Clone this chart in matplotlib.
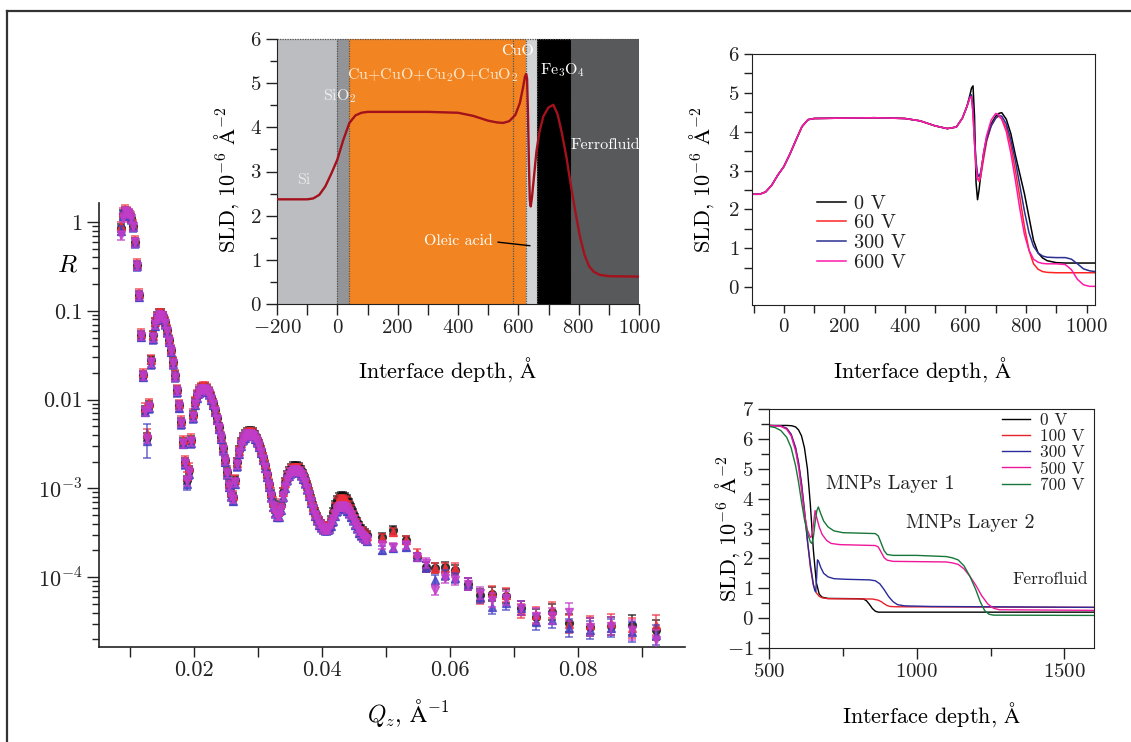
import numpy as np
import matplotlib
matplotlib.use("Agg")
import matplotlib.pyplot as plt
from matplotlib.patches import Rectangle
from matplotlib.lines import Line2D
from matplotlib.ticker import FixedLocator, FixedFormatter, MultipleLocator, NullFormatter, LogLocator

plt.rcParams.update({
    "font.family": ["cmr10", "DejaVu Serif"],
    "mathtext.fontset": "cm",
    "axes.formatter.use_mathtext": True,
    "axes.unicode_minus": True,
    "text.color": "#222222",
    "axes.edgecolor": "#222222",
    "xtick.color": "#222222",
    "ytick.color": "#222222",
})

# ---------------- reflectivity data (log10 R) ----------------
q_dense = [0.00859, 0.00891, 0.00922, 0.00953, 0.00984, 0.01016, 0.01047, 0.01078, 0.01109, 0.01141,
           0.01172, 0.01203, 0.01234, 0.01266, 0.01297, 0.01328, 0.01359, 0.01391, 0.01422, 0.01453,
           0.01484, 0.01516, 0.01547, 0.01578, 0.01609, 0.01641, 0.01672, 0.01703, 0.01734, 0.01766,
           0.01797, 0.01828, 0.01859, 0.01891, 0.01922, 0.01953, 0.01984, 0.02016, 0.02047, 0.02078,
           0.02109, 0.02141, 0.02172, 0.02203, 0.02234, 0.02266, 0.02297, 0.02328, 0.02359, 0.02391,
           0.02422, 0.02453, 0.02484, 0.02516, 0.02547, 0.02578, 0.02609, 0.02641, 0.02672, 0.02703,
           0.02734, 0.02766, 0.02797, 0.02828, 0.02859, 0.02891, 0.02922, 0.02953, 0.02984, 0.03016,
           0.03047, 0.03078, 0.03109, 0.03141, 0.03172, 0.03203, 0.03234, 0.03266, 0.03297, 0.03328,
           0.03359, 0.03391, 0.03422, 0.03453, 0.03484, 0.03516, 0.03547, 0.03578, 0.03609, 0.03641,
           0.03672, 0.03703, 0.03734, 0.03766, 0.03797, 0.03828, 0.03859, 0.03891, 0.03922, 0.03953,
           0.03984, 0.04016, 0.04047, 0.04078, 0.04109, 0.04141, 0.04172, 0.04203, 0.04234, 0.04266,
           0.04297, 0.04328, 0.04359, 0.04391, 0.04422, 0.04453, 0.04484, 0.04516, 0.04547, 0.04578,
           0.04609, 0.04641, 0.04672, 0.04703]

logr_0v = [-0.068, 0.090, 0.124, 0.113, 0.090, 0.045, -0.045, -0.225, -0.484, -0.822,
           -1.273, -1.723, -2.117, -2.421, -2.061, -1.554, -1.273, -1.126, -1.059, -1.025,
           -1.025, -1.059, -1.126, -1.216, -1.329, -1.441, -1.577, -1.723, -1.892, -2.061,
           -2.252, -2.477, -2.703, -2.905, -2.793, -2.455, -2.173, -2.027, -1.948, -1.903,
           -1.869, -1.858, -1.858, -1.881, -1.914, -1.971, -2.038, -2.117, -2.207, -2.309,
           -2.421, -2.545, -2.680, -2.815, -2.950, -3.052, -3.097, -2.905, -2.703, -2.568,
           -2.477, -2.421, -2.387, -2.365, -2.354, -2.354, -2.365, -2.399, -2.444, -2.500,
           -2.568, -2.646, -2.736, -2.838, -2.950, -3.063, -3.164, -3.232, -3.266, -3.266,
           -3.187, -3.041, -2.928, -2.849, -2.804, -2.770, -2.748, -2.748, -2.748, -2.759,
           -2.793, -2.838, -2.894, -2.962, -3.041, -3.119, -3.198, -3.266, -3.322, -3.367,
           -3.401, -3.423, -3.435, -3.435, -3.423, -3.356, -3.266, -3.187, -3.131, -3.097,
           -3.086, -3.086, -3.097, -3.119, -3.164, -3.221, -3.277, -3.333, -3.378, -3.423,
           -3.457, -3.480, -3.502, -3.525]

logr_60v = [-0.05, 0.11, 0.14, 0.12, 0.10, 0.06, -0.03, -0.21, -0.47, -0.81,
            -1.26, -1.70, -2.09, -2.38, -2.04, -1.55, -1.28, -1.13, -1.07, -1.03,
            -1.03, -1.06, -1.12, -1.21, -1.32, -1.43, -1.57, -1.72, -1.88, -2.05,
            -2.24, -2.46, -2.68, -2.86, -2.76, -2.44, -2.16, -2.02, -1.94, -1.89,
            -1.86, -1.85, -1.85, -1.87, -1.91, -1.97, -2.04, -2.12, -2.21, -2.31,
            -2.42, -2.54, -2.67, -2.80, -2.94, -3.04, -3.08, -2.90, -2.71, -2.58,
            -2.49, -2.44, -2.41, -2.38, -2.37, -2.37, -2.38, -2.41, -2.46, -2.51,
            -2.57, -2.65, -2.73, -2.83, -2.94, -3.05, -3.15, -3.22, -3.25, -3.25,
            -3.17, -3.04, -2.94, -2.87, -2.82, -2.79, -2.77, -2.77, -2.77, -2.78,
            -2.81, -2.85, -2.90, -2.97, -3.05, -3.13, -3.21, -3.27, -3.33, -3.37,
            -3.41, -3.43, -3.44, -3.44, -3.43, -3.38, -3.30, -3.22, -3.16, -3.13,
            -3.12, -3.12, -3.13, -3.15, -3.19, -3.24, -3.30, -3.35, -3.40, -3.44,
            -3.48, -3.50, -3.52, -3.54]

logr_300v = [-0.10, 0.07, 0.11, 0.10, 0.08, 0.03, -0.06, -0.24, -0.50, -0.84,
             -1.29, -1.74, -2.14, -2.47, -2.10, -1.60, -1.32, -1.17, -1.10, -1.07,
             -1.06, -1.09, -1.15, -1.24, -1.35, -1.46, -1.60, -1.75, -1.92, -2.09,
             -2.28, -2.50, -2.73, -2.95, -2.84, -2.49, -2.21, -2.06, -1.98, -1.93,
             -1.90, -1.89, -1.89, -1.91, -1.94, -2.00, -2.06, -2.14, -2.23, -2.33,
             -2.44, -2.57, -2.70, -2.84, -2.98, -3.09, -3.14, -2.95, -2.75, -2.61,
             -2.52, -2.46, -2.43, -2.41, -2.40, -2.40, -2.41, -2.44, -2.48, -2.53,
             -2.60, -2.68, -2.77, -2.87, -2.98, -3.10, -3.21, -3.28, -3.32, -3.32,
             -3.24, -3.10, -2.99, -2.91, -2.86, -2.83, -2.81, -2.81, -2.81, -2.82,
             -2.85, -2.89, -2.94, -3.01, -3.08, -3.16, -3.24, -3.31, -3.36, -3.41,
             -3.44, -3.46, -3.47, -3.47, -3.46, -3.42, -3.37, -3.31, -3.26, -3.23,
             -3.22, -3.22, -3.23, -3.25, -3.28, -3.32, -3.36, -3.41, -3.45, -3.50,
             -3.53, -3.55, -3.57, -3.59]

logr_600v = [-0.15, 0.05, 0.12, 0.11, 0.09, 0.04, -0.05, -0.23, -0.49, -0.83,
             -1.28, -1.73, -2.13, -2.44, -2.08, -1.58, -1.30, -1.15, -1.09, -1.05,
             -1.05, -1.08, -1.14, -1.23, -1.34, -1.45, -1.59, -1.74, -1.90, -2.07,
             -2.26, -2.49, -2.71, -2.92, -2.81, -2.47, -2.19, -2.05, -1.97, -1.92,
             -1.89, -1.88, -1.88, -1.90, -1.93, -1.99, -2.05, -2.13, -2.22, -2.32,
             -2.43, -2.56, -2.69, -2.83, -2.97, -3.08, -3.12, -2.93, -2.73, -2.60,
             -2.51, -2.45, -2.42, -2.39, -2.39, -2.39, -2.40, -2.43, -2.47, -2.52,
             -2.59, -2.67, -2.76, -2.86, -2.97, -3.09, -3.20, -3.27, -3.31, -3.31,
             -3.23, -3.09, -2.98, -2.90, -2.85, -2.82, -2.80, -2.80, -2.80, -2.81,
             -2.84, -2.88, -2.93, -3.00, -3.07, -3.15, -3.23, -3.30, -3.35, -3.40,
             -3.43, -3.45, -3.46, -3.46, -3.45, -3.40, -3.35, -3.29, -3.24, -3.21,
             -3.20, -3.20, -3.21, -3.23, -3.27, -3.30, -3.35, -3.40, -3.44, -3.48,
             -3.51, -3.54, -3.56, -3.58]

q_sparse = [0.0493, 0.0511, 0.0531, 0.0549, 0.0563, 0.0577, 0.0592, 0.0608, 0.0628, 0.0647,
            0.0666, 0.0687, 0.0711, 0.0734, 0.0760, 0.0786, 0.0818, 0.0852, 0.0884, 0.0922]
logr_sparse_0v = [-3.547, -3.468, -3.581, -3.773, -3.885, -3.896, -3.885, -3.919, -4.077, -4.200,
                  -4.189, -4.212, -4.347, -4.448, -4.392, -4.516, -4.561, -4.550, -4.538, -4.595]
logr_sparse_60v = [-3.559, -3.491, -3.581, -3.727, -3.885, -3.896, -3.896, -3.896, -4.077, -4.234,
                   -4.178, -4.200, -4.381, -4.426, -4.369, -4.527, -4.538, -4.516, -4.572, -4.538]
logr_sparse_300v = [-3.694, -3.671, -3.660, -3.773, -3.885, -4.032, -3.975, -4.009, -4.077, -4.223,
                    -4.336, -4.291, -4.347, -4.505, -4.482, -4.572, -4.595, -4.572, -4.617, -4.651]
logr_sparse_600v = [-3.637, -3.660, -3.637, -3.773, -3.840, -4.144, -4.009, -4.032, -4.077, -4.178,
                    -4.257, -4.234, -4.347, -4.437, -4.437, -4.392, -4.561, -4.550, -4.595, -4.707]
# half-width of the error bars in decades
err_sparse = [0.05, 0.05, 0.05, 0.05, 0.06, 0.06, 0.06, 0.06, 0.07, 0.07,
              0.08, 0.08, 0.08, 0.09, 0.09, 0.10, 0.10, 0.10, 0.11, 0.11]
err_dense = 0.05
# wider bars in the two deepest fringe minima of the 300 V run
wide_err_index = [13, 33]
wide_err = [0.19, 0.07]

# ---------------- layer model SLD profile ----------------
model_depth = [-200, -150, -100, -80, -60, -40, -20, 0, 20, 40,
               60, 80, 100, 200, 300, 400, 450, 500, 530, 550,
               570, 590, 605, 615, 622, 626, 629, 632, 635, 638,
               641, 645, 650, 660, 670, 683, 700, 716, 730, 745,
               760, 775, 790, 805, 820, 835, 850, 870, 900, 1000]
model_sld = [2.37, 2.37, 2.37, 2.39, 2.47, 2.66, 2.95, 3.27, 3.72, 4.10,
             4.27, 4.33, 4.35, 4.35, 4.35, 4.33, 4.26, 4.15, 4.11, 4.10,
             4.14, 4.28, 4.55, 4.88, 5.15, 5.21, 5.10, 4.30, 3.20, 2.35,
             2.21, 2.40, 2.75, 3.45, 3.90, 4.25, 4.45, 4.51, 4.30, 3.85,
             3.30, 2.65, 2.05, 1.50, 1.10, 0.85, 0.73, 0.66, 0.63, 0.62]
layer_names = ["Si", "SiO$_2$", "Cu+CuO+Cu$_2$O+CuO$_2$", "CuO", "Fe$_3$O$_4$", "Ferrofluid"]
layer_edges = [-200, 0, 40, 625, 661, 773, 1000]
layer_colors = ["#bcbdc1", "#939498", "#f28522", "#d2d3d5", "#000000", "#58595b"]

# ---------------- SLD profiles, 0-600 V ----------------
volt_labels_a = ["0 V", "60 V", "300 V", "600 V"]
volt_colors_a = ["#000000", "#ff2424", "#2b2f90", "#ff1aa8"]
depth_a = [-105, -80, -60, -40, -20, 0, 20, 40, 60, 80,
           100, 200, 300, 400, 450, 500, 540, 570, 590, 605,
           615, 620, 625, 630, 635, 640, 645, 650, 660, 670,
           685, 700, 710, 720, 735, 750, 765, 780, 795, 810,
           825, 840, 855, 870, 900, 930, 950, 970, 990, 1010, 1028]
sld_a_common = [2.39, 2.39, 2.45, 2.62, 2.88, 3.10, 3.42, 3.78, 4.13, 4.31,
                4.34, 4.35, 4.36, 4.34, 4.28, 4.15, 4.08, 4.12, 4.35, 4.65]
sld_a_0v = sld_a_common + [4.95, 5.12, 5.18, 4.40, 2.70, 2.25, 2.50, 2.85, 3.45, 3.85,
                           4.20, 4.40, 4.47, 4.49, 4.32, 3.95, 3.40, 2.90, 2.40, 1.80,
                           1.20, 0.88, 0.75, 0.68, 0.63, 0.62, 0.62, 0.62, 0.62, 0.62, 0.62]
sld_a_60v = sld_a_common + [4.88, 4.92, 4.50, 3.70, 3.15, 2.82, 2.72, 2.82, 3.30, 3.75,
                            4.15, 4.35, 4.40, 4.33, 4.10, 3.65, 3.00, 2.30, 1.55, 0.95,
                            0.60, 0.46, 0.40, 0.38, 0.37, 0.37, 0.37, 0.37, 0.37, 0.37, 0.37]
sld_a_300v = sld_a_common + [4.90, 4.95, 4.65, 3.85, 3.25, 2.92, 2.84, 2.95, 3.40, 3.80,
                             4.15, 4.35, 4.42, 4.40, 4.20, 3.80, 3.25, 2.60, 1.95, 1.40,
                             1.05, 0.88, 0.80, 0.77, 0.76, 0.76, 0.72, 0.60, 0.47, 0.42, 0.40]
sld_a_600v = sld_a_common + [4.88, 4.90, 4.45, 3.70, 3.10, 2.78, 2.74, 2.88, 3.45, 3.90,
                             4.30, 4.47, 4.44, 4.32, 4.00, 3.45, 2.75, 2.00, 1.35, 0.95,
                             0.72, 0.64, 0.61, 0.60, 0.60, 0.58, 0.45, 0.20, 0.06, 0.02, 0.02]

# ---------------- SLD profiles, 0-700 V ----------------
volt_labels_b = ["0 V", "100 V", "300 V", "500 V", "700 V"]
volt_colors_b = ["#000000", "#e8202a", "#2a2a9a", "#f0169a", "#17773a"]
depth_b_0v = [500, 560, 577, 590, 600, 610, 620, 630, 640, 650, 660, 670, 680, 700,
              800, 820, 830, 840, 850, 860, 870, 1600]
sld_b_0v = [6.45, 6.45, 6.44, 6.40, 6.30, 6.10, 5.70, 5.00, 3.80, 2.30, 1.20, 0.80, 0.70, 0.66,
            0.65, 0.64, 0.58, 0.46, 0.32, 0.23, 0.20, 0.20]
depth_b_100v = [500, 540, 560, 575, 590, 600, 610, 620, 630, 640, 650, 660, 670, 680, 700,
                850, 870, 880, 890, 900, 910, 930, 1600]
sld_b_100v = [6.45, 6.43, 6.35, 6.15, 5.70, 5.20, 4.50, 3.60, 2.60, 1.70, 1.10, 0.85, 0.73, 0.68, 0.65,
              0.64, 0.60, 0.55, 0.48, 0.42, 0.39, 0.38, 0.36]
depth_b_300v = [500, 540, 560, 575, 590, 600, 610, 620, 630, 640, 650, 655, 658, 661, 664, 668,
                675, 685, 700, 720, 760, 840, 860, 875, 890, 905, 920, 935, 960, 1050, 1600]
sld_b_300v = [6.45, 6.43, 6.35, 6.15, 5.70, 5.20, 4.50, 3.60, 2.60, 1.80, 1.15, 0.92, 0.88, 1.30, 1.95, 1.90,
              1.70, 1.50, 1.38, 1.32, 1.30, 1.28, 1.25, 1.15, 0.95, 0.72, 0.55, 0.45, 0.41, 0.39, 0.36]
depth_b_500v = [500, 540, 560, 575, 590, 600, 610, 620, 630, 640, 645, 650, 656, 662, 670, 680,
                695, 710, 740, 860, 870, 880, 890, 900, 920, 1100, 1120, 1140, 1160, 1180,
                1200, 1220, 1240, 1260, 1280, 1600]
sld_b_500v = [6.45, 6.42, 6.32, 6.10, 5.60, 5.05, 4.30, 3.50, 2.95, 2.70, 2.75, 3.10, 3.60, 3.35, 3.05, 2.80,
              2.60, 2.50, 2.46, 2.43, 2.38, 2.20, 2.02, 1.94, 1.90, 1.88, 1.85, 1.80, 1.65, 1.40,
              1.10, 0.75, 0.48, 0.33, 0.28, 0.26]
depth_b_700v = [500, 520, 540, 560, 575, 590, 600, 610, 620, 630, 640, 645, 650, 656, 662, 667,
                675, 685, 700, 720, 750, 860, 870, 880, 890, 900, 920, 1000, 1100, 1120,
                1140, 1160, 1180, 1200, 1215, 1230, 1245, 1260, 1600]
sld_b_700v = [6.42, 6.38, 6.28, 6.05, 5.70, 5.10, 4.55, 3.90, 3.30, 2.85, 2.55, 2.50, 2.70, 3.20, 3.60, 3.72,
              3.50, 3.25, 3.05, 2.92, 2.86, 2.83, 2.75, 2.50, 2.25, 2.13, 2.10, 2.10, 2.06, 2.02,
              1.95, 1.75, 1.40, 0.95, 0.55, 0.25, 0.13, 0.10, 0.09]

W, H = 1131, 742
fig = plt.figure(figsize=(W / 100, H / 100), dpi=100)


def frac(left, top, right, bottom):
    return [left / W, 1 - bottom / H, (right - left) / W, (bottom - top) / H]


def style_ticks(ax, size, major_len=7, minor_len=4):
    ax.tick_params(which="both", direction="out", top=False, right=False, labelsize=size, width=1.0)
    ax.tick_params(which="major", length=major_len, pad=3)
    ax.tick_params(which="minor", length=minor_len)


# ---------------- reflectivity panel ----------------
axm = fig.add_axes(frac(99, 203, 685, 647))
axm.set_yscale("log")
series = [
    (logr_0v, logr_sparse_0v, "#111111", "o", 5.6),
    (logr_60v, logr_sparse_60v, "#f2303a", "^", 6.3),
    (logr_300v, logr_sparse_300v, "#4640c4", "^", 6.3),
    (logr_600v, logr_sparse_600v, "#c23cc8", "v", 6.3),
]
for k, (ld, ls, col, mk, ms) in enumerate(series):
    q = np.array(q_dense + q_sparse)
    lr = np.array(ld + ls)
    e = np.array([err_dense] * len(ld) + err_sparse)
    if k == 2:
        for i, w in zip(wide_err_index, wide_err):
            e[i] = w
    r = 10 ** lr
    lo = r - 10 ** (lr - e)
    hi = 10 ** (lr + e) - r
    axm.errorbar(q, r, yerr=[lo, hi], fmt=mk, ms=ms, color=col, mec=col, mfc=col,
                 ecolor=col, elinewidth=1.1, capsize=3, capthick=1.1, alpha=0.8, zorder=2 + k)
axm.set_xlim(0.00516, 0.0967)
axm.set_ylim(10 ** -4.786, 10 ** 0.214)
axm.spines["top"].set_visible(False)
axm.spines["right"].set_visible(False)
axm.spines["left"].set_linewidth(1.2)
axm.spines["bottom"].set_linewidth(1.2)
axm.yaxis.set_major_locator(FixedLocator([1, 0.1, 0.01, 1e-3, 1e-4]))
axm.yaxis.set_major_formatter(FixedFormatter(["1", "0.1", "0.01", r"$10^{-3}$", r"$10^{-4}$"]))
axm.yaxis.set_minor_locator(LogLocator(base=10, subs=np.arange(2, 10)))
axm.yaxis.set_minor_formatter(NullFormatter())
axm.xaxis.set_major_locator(FixedLocator([0.02, 0.04, 0.06, 0.08]))
axm.xaxis.set_major_formatter(FixedFormatter(["0.02", "0.04", "0.06", "0.08"]))
axm.xaxis.set_minor_locator(FixedLocator([0.01, 0.03, 0.05, 0.07, 0.09]))
style_ticks(axm, 16, major_len=9, minor_len=5)
axm.tick_params(axis="x", which="minor", length=7)
axm.tick_params(axis="x", which="major", length=7)
axm.set_xlabel(r"$Q_z$, $\mathrm{\AA}^{-1}$", fontsize=17)
axm.xaxis.set_label_coords(0.527, -0.149)
axm.xaxis.label.set_va("center")
axm.set_ylabel(r"$R$", fontsize=18, rotation=0)
axm.yaxis.set_label_coords(-0.053, 0.86)
axm.yaxis.label.set_va("center")

# ---------------- layer model panel ----------------
axl = fig.add_axes(frac(277, 39, 639, 304))
for x0, x1, c in zip(layer_edges[:-1], layer_edges[1:], layer_colors):
    axl.add_patch(Rectangle((x0, 0), x1 - x0, 6, facecolor=c, edgecolor="none", zorder=0))
for xb in [0, 40, 581, 625, 661, 773, 1000]:
    axl.plot([xb, xb], [0, 6], ls=(0, (1, 1)), color="#555555", lw=0.9, zorder=1)
axl.plot([-200, 1000], [6, 6], ls=(0, (1, 1)), color="#555555", lw=0.9, zorder=1, clip_on=False)
axl.plot(model_depth, model_sld, color="#a3111c", lw=1.7, zorder=3)
axl.set_xlim(-200, 1000)
axl.set_ylim(0, 6)
axl.spines["top"].set_visible(False)
axl.spines["right"].set_visible(False)
axl.xaxis.set_major_locator(MultipleLocator(200))
axl.xaxis.set_minor_locator(MultipleLocator(100))
axl.yaxis.set_major_locator(MultipleLocator(1))
axl.yaxis.set_minor_locator(MultipleLocator(0.5))
style_ticks(axl, 15, major_len=8, minor_len=5)
axl.tick_params(axis="x", which="minor", length=8)
axl.set_xlabel(r"Interface depth, $\mathrm{\AA}$", fontsize=16)
axl.xaxis.set_label_coords(0.472, -0.249)
axl.xaxis.label.set_va("center")
axl.set_ylabel(r"SLD, $10^{-6}$ $\mathrm{\AA}^{-2}$", fontsize=16)
axl.yaxis.set_label_coords(-0.138, 0.47)
axl.yaxis.label.set_va("center")
layer_text_pos = [(-110, 2.8), (9, 4.7), (316, 5.19), (596, 5.72), (747, 5.3), (889, 3.6)]
layer_text_col = ["#e8e8e8", "#eeeeee", "#fde7cc", "#ffffff", "#ffffff", "#ffffff"]
for name, (tx, ty), tc in zip(layer_names, layer_text_pos, layer_text_col):
    axl.text(tx, ty, name, color=tc, fontsize=11.5, ha="center", va="center", zorder=4)
axl.text(400, 1.42, "Oleic acid", color="#ffffff", fontsize=11.5, ha="center", va="center", zorder=4)
axl.plot([533, 638], [1.40, 1.32], color="#000000", lw=1.0, zorder=4)

# ---------------- SLD profiles 0-600 V ----------------
axa = fig.add_axes(frac(752, 54, 1095, 305))
for sld, lab, col in zip([sld_a_0v, sld_a_60v, sld_a_300v, sld_a_600v], volt_labels_a, volt_colors_a):
    axa.plot(depth_a, sld, color=col, lw=1.1, label=lab)
axa.set_xlim(-105, 1028)
axa.set_ylim(-0.46, 6)
axa.xaxis.set_major_locator(MultipleLocator(200))
axa.xaxis.set_minor_locator(MultipleLocator(100))
axa.yaxis.set_major_locator(MultipleLocator(1))
axa.yaxis.set_minor_locator(MultipleLocator(0.5))
style_ticks(axa, 15, major_len=6, minor_len=6)
axa.set_xlabel(r"Interface depth, $\mathrm{\AA}$", fontsize=16)
axa.xaxis.set_label_coords(0.499, -0.259)
axa.xaxis.label.set_va("center")
axa.set_ylabel(r"SLD, $10^{-6}$ $\mathrm{\AA}^{-2}$", fontsize=16)
axa.yaxis.set_label_coords(-0.146, 0.5)
axa.yaxis.label.set_va("center")
axa.legend(loc="upper left", bbox_to_anchor=(0.19, 0.44), frameon=False, fontsize=14.5,
           handlelength=1.45, handletextpad=0.4, labelspacing=0.08, borderpad=0, borderaxespad=0)

# ---------------- SLD profiles 0-700 V ----------------
axb = fig.add_axes(frac(769, 409, 1094, 648))
b_sets = [(depth_b_0v, sld_b_0v), (depth_b_100v, sld_b_100v), (depth_b_300v, sld_b_300v),
          (depth_b_500v, sld_b_500v), (depth_b_700v, sld_b_700v)]
for (dd, ss), lab, col in zip(b_sets, volt_labels_b, volt_colors_b):
    axb.plot(dd, ss, color=col, lw=1.0, label=lab)
axb.set_xlim(500, 1600)
axb.set_ylim(-1, 7)
axb.xaxis.set_major_locator(MultipleLocator(500))
axb.xaxis.set_minor_locator(MultipleLocator(250))
axb.yaxis.set_major_locator(MultipleLocator(1))
axb.yaxis.set_minor_locator(MultipleLocator(0.5))
style_ticks(axb, 15, major_len=8, minor_len=6)
axb.set_xlabel(r"Interface depth, $\mathrm{\AA}$", fontsize=16)
axb.xaxis.set_label_coords(0.50, -0.28)
axb.xaxis.label.set_va("center")
axb.set_ylabel(r"SLD, $10^{-6}$ $\mathrm{\AA}^{-2}$", fontsize=16)
axb.yaxis.set_label_coords(-0.126, 0.5)
axb.yaxis.label.set_va("center")
axb.text(910, 4.48, "MNPs Layer 1", fontsize=14.5, ha="center", va="center")
axb.text(1181, 3.17, "MNPs Layer 2", fontsize=14.5, ha="center", va="center")
axb.text(1451, 1.3, "Ferrofluid", fontsize=12.5, ha="center", va="center")
axb.legend(loc="upper left", bbox_to_anchor=(0.717, 0.985), frameon=False, fontsize=12.5,
           handlelength=1.6, handletextpad=0.6, labelspacing=0.05, borderpad=0, borderaxespad=0)

# outer frame lines
fig.add_artist(Line2D([7 / W, 7 / W], [0, 1 - 11 / H], color="#333333", lw=1.6))
fig.add_artist(Line2D([7 / W, 1], [1 - 11 / H, 1 - 11 / H], color="#333333", lw=1.6))

fig.savefig("out.png", dpi=100)
